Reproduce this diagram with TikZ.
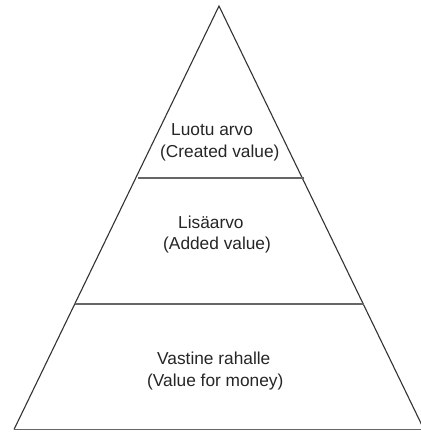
\documentclass[tikz,border=0pt]{standalone}
\usepackage{fontspec}
\setmainfont{Liberation Sans}
\begin{document}
\begin{tikzpicture}[x=1pt,y=-1pt,
  edge/.style={draw=black!80,line width=1.1pt},
  tier/.style={draw=black!60,line width=1.8pt},
  lbl/.style={anchor=base west,inner sep=0pt,font=\fontsize{17.3}{20}\selectfont,text=black!85}]
  \useasboundingbox (0,0) rectangle (421,432);
  \fill[white] (0,0) rectangle (421,432);
  % outline of the pyramid
  \coordinate (apex) at (219,6);
  \coordinate (bl) at (14,429.5);
  \coordinate (br) at (424,429.5);
  \draw[edge] (bl) -- (apex) -- (br);
  \draw[tier] (bl) -- (br);
  % tier boundaries
  \coordinate (t1l) at (138,178);
  \coordinate (t1r) at (304,178);
  \coordinate (t2l) at (75,304);
  \coordinate (t2r) at (364,304);
  \draw[tier] (t1l) -- (t1r);
  \draw[tier] (t2l) -- (t2r);
  % labels
  \node[lbl] (l1a) at (171,135) {Luotu arvo};
  \node[lbl] (l1b) at (160,157) {(Created value)};
  \node[lbl] (l2a) at (178,228) {Lisäarvo};
  \node[lbl] (l2b) at (163,249) {(Added value)};
  \node[lbl] (l3a) at (157,364) {Vastine rahalle};
  \node[lbl] (l3b) at (147,386) {(Value for money)};
\end{tikzpicture}
\end{document}
